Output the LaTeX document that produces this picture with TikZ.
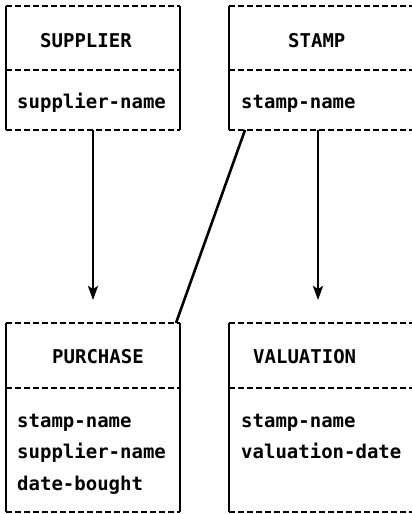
\documentclass[tikz,border=0pt]{standalone}
\usepackage{fontspec}
\setmonofont{DejaVu Sans Mono}
\usetikzlibrary{arrows.meta}
\tikzset{
  ent/.style={draw=none, inner sep=0pt, outer sep=0pt, rectangle},
  dashedge/.style={line width=2.4pt, dash pattern=on 6pt off 3pt},
  solidedge/.style={line width=2.4pt},
  lbl/.style={font=\ttfamily\bfseries\fontsize{19}{21}\selectfont, inner sep=0pt, anchor=base west},
  conn/.style={line width=2.6pt},
  arr/.style={line width=2.4pt, -{Stealth[length=14pt,width=10pt,inset=3pt]}}
}
\newcommand{\entbox}[2]{%
  \draw[dashedge] (#1.north west) -- (#1.north east);
  \draw[dashedge] (#1.south west) -- (#1.south east);
  \draw[solidedge] (#1.north west) -- (#1.south west);
  \draw[solidedge] (#1.north east) -- (#1.south east);
  \draw[dashedge] (#1.west |- 0,#2) -- (#1.east |- 0,#2);
}
\begin{document}
\begin{tikzpicture}[x=1pt,y=-1pt]
\useasboundingbox (0,0) rectangle (412,514);
\begin{scope}
\clip (0,0) rectangle (412,514);
% boxes
\node[ent, minimum width=174pt, minimum height=124pt] (supplier) at (93,68) {};
\node[ent, minimum width=190pt, minimum height=124pt] (stamp) at (324,68) {};
\node[ent, minimum width=174pt, minimum height=189pt] (purchase) at (93,417.5) {};
\node[ent, minimum width=190pt, minimum height=189pt] (valuation) at (324,417.5) {};
\entbox{supplier}{70}
\entbox{stamp}{70}
\entbox{purchase}{388}
\entbox{valuation}{388}
\end{scope}
% texts
\node[lbl] (t1) at (40,47) {SUPPLIER};
\node[lbl] (a1) at (17,108) {supplier-name};
\node[lbl] (t2) at (288,47) {STAMP};
\node[lbl] (a2) at (241,108) {stamp-name};
\node[lbl] (t3) at (52,363) {PURCHASE};
\node[lbl] (a3) at (17,427) {stamp-name};
\node[lbl] (a4) at (17,458) {supplier-name};
\node[lbl] (a5) at (17,490) {date-bought};
\node[lbl] (t4) at (253,363) {VALUATION};
\node[lbl] (a6) at (241,427) {stamp-name};
\node[lbl] (a7) at (241,458) {valuation-date};
% connectors
\coordinate (c1) at (318,130);
\coordinate (c2) at (318,300);
\draw[arr] (supplier.south) -- ([yshift=23pt]purchase.north);
\draw[arr] (c1) -- (c2);
\draw[conn] ([xshift=16pt]stamp.south west) -- ([xshift=-4pt]purchase.north east);
\end{tikzpicture}
\end{document}
